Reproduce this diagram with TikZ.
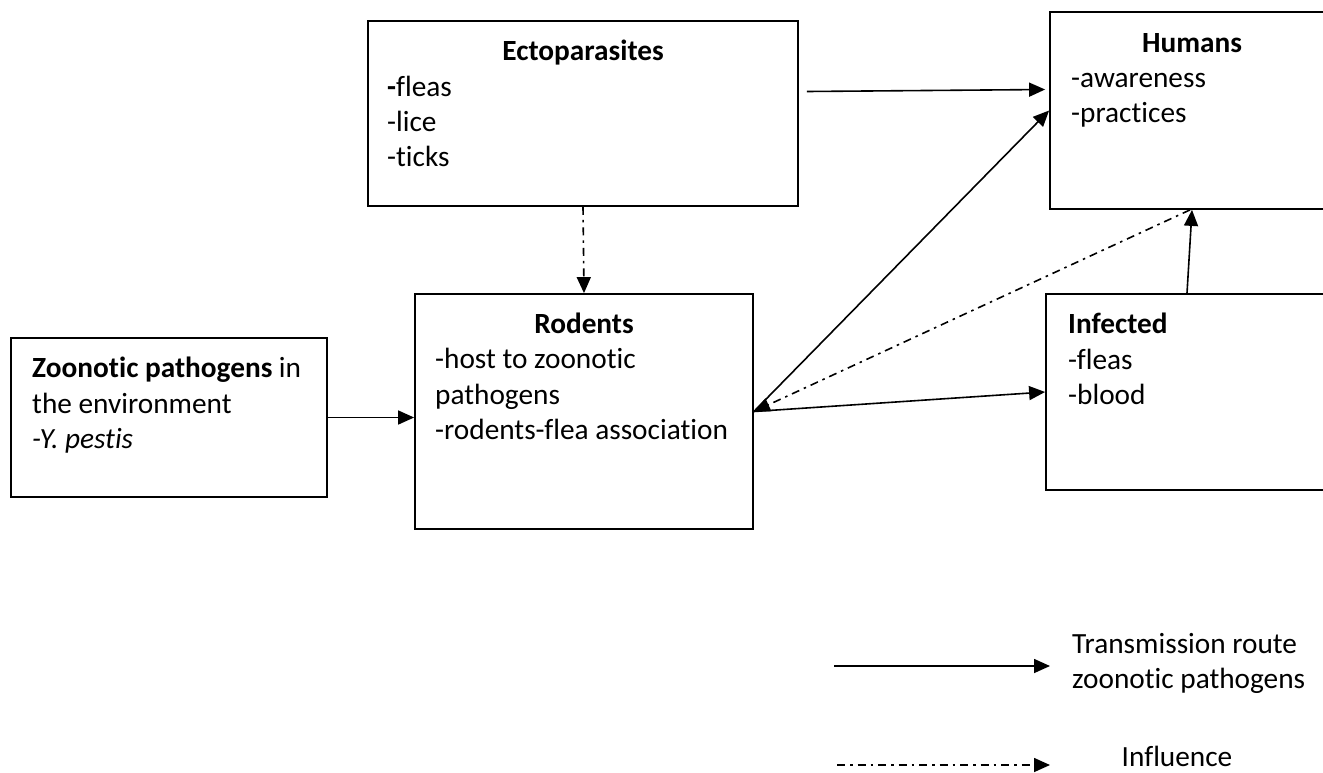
\documentclass[tikz,border=0pt]{standalone}
\usepackage{fontspec}
\setmainfont[Ligatures=NoCommon]{Carlito}
\usetikzlibrary{arrows.meta}
\tikzset{
  box/.style={draw, line width=1.8pt, rectangle, inner sep=0pt},
  txt/.style={inner sep=0pt, anchor=base west, font=\fontsize{29.3pt}{35pt}\selectfont},
  hd/.style={inner sep=0pt, anchor=base, font=\fontsize{29.3pt}{35pt}\selectfont\bfseries},
  arr/.style={line width=1.6pt, -{Triangle[length=16pt,width=14pt]}},
  infl/.style={arr, dash pattern=on 8pt off 5pt on 2.5pt off 5pt},
}
\begin{document}
\begin{tikzpicture}[x=1pt,y=-1pt]
\useasboundingbox (0,0) rectangle (1323,772);
% boxes
\node[box, minimum width=430pt, minimum height=185pt] (ecto) at (583,113.5) {};
\node[box, minimum width=338pt, minimum height=235pt] (rodents) at (584,411.5) {};
\node[box, minimum width=316pt, minimum height=159pt] (zoon) at (169,417.5) {};
\node[box, minimum width=284pt, minimum height=197pt] (humans) at (1192,110.5) {};
\node[box, minimum width=288pt, minimum height=196pt] (infected) at (1190,392) {};
% Ectoparasites text
\node[hd] (ectoh) at (583,60) {Ectoparasites};
\node[txt] (ecto1) at (387,96) {\textbf{-}fleas};
\node[txt] (ecto2) at (387,131) {-lice};
\node[txt] (ecto3) at (387,166) {-ticks};
% Humans text
\node[hd] (humh) at (1192,52) {Humans};
\node[txt] (hum1) at (1071,87) {-awareness};
\node[txt] (hum2) at (1071,122) {-practices};
% Rodents text
\node[hd] (rodh) at (584,333) {Rodents};
\node[txt] (rod1) at (435,368) {-host to zoonotic};
\node[txt] (rod2) at (435,404) {pathogens};
\node[txt] (rod3) at (435,439) {-rodents-flea association};
% Infected text
\node[txt, font=\fontsize{29.3pt}{35pt}\selectfont\bfseries] (infh) at (1068,333) {Infected};
\node[txt] (inf1) at (1068,369) {-fleas};
\node[txt] (inf2) at (1068,404) {-blood};
% Zoonotic text
\node[txt] (zoo1) at (32,377) {\textbf{Zoonotic pathogens} in};
\node[txt] (zoo2) at (32,413) {the environment};
\node[txt] (zoo3) at (32,448) {\textit{-Y. pestis}};
% connectors
\draw[arr] ([xshift=8pt,yshift=22pt]ecto.east) -- ([xshift=-4pt,yshift=21pt]humans.west);
\draw[infl] (ecto.south) -- (rodents.north);
\draw[arr] (zoon.east) -- (zoon.east -| rodents.west);
\draw[arr] (rodents.east) -- (humans.west);
\draw[arr] (rodents.east) -- (infected.west);
\draw[infl] ([xshift=-2pt]humans.south) -- (rodents.east);
\draw[arr] ([xshift=-3pt]infected.north) -- (humans.south);
% legend
\coordinate (l1a) at (834,666);
\coordinate (l1b) at (1050,666);
\coordinate (l2a) at (837,765);
\coordinate (l2b) at (1050,765);
\draw[arr] (l1a) -- (l1b);
\draw[infl] (l2a) -- (l2b);
\node[txt] (leg1) at (1072,653) {Transmission route};
\node[txt] (leg2) at (1072,688) {zoonotic pathogens};
\node[txt, anchor=base] (leg3) at (1177,766) {Influence};
\end{tikzpicture}
\end{document}
